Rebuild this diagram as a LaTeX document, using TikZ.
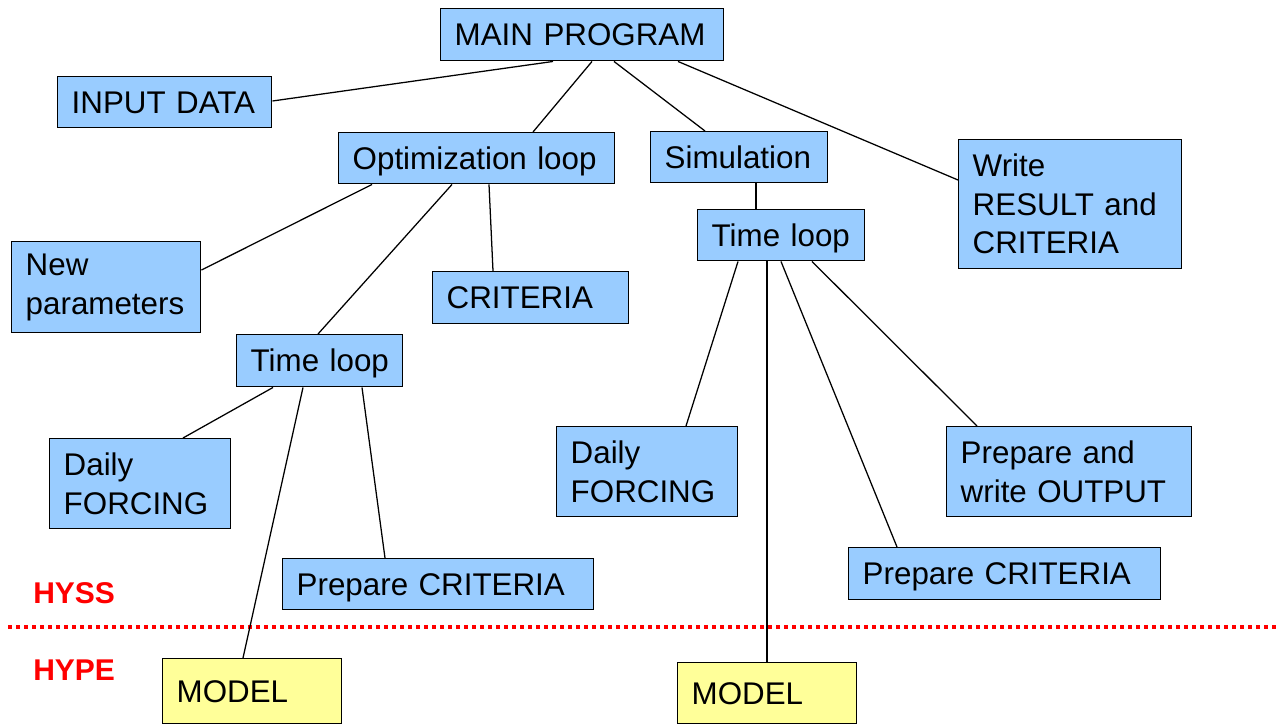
\documentclass[tikz,border=0pt]{standalone}
\usepackage{fontspec}
\setmainfont{Liberation Sans}
\usetikzlibrary{calc}
\definecolor{boxblue}{HTML}{99CCFF}
\definecolor{boxyellow}{HTML}{FFFF99}
\definecolor{lblred}{HTML}{FF0000}
\tikzset{
  bx/.style n args={2}{draw=black, line width=1.1pt, fill=boxblue, anchor=north west,
    minimum width=#1*0.75pt, minimum height=#2*0.75pt, text width=#1*0.75pt-21pt,
    inner xsep=10.5pt, inner ysep=0pt, align=left,
    font=\fontsize{23.5pt}{28.9pt}\selectfont},
  ybx/.style n args={2}{bx={#1}{#2}, fill=boxyellow},
  oneline/.style={text height=16.8pt, text depth=0pt},
  conn/.style={draw=black, line width=0.95pt},
  lvl/.style={text=lblred, font=\bfseries\fontsize{22.5pt}{27pt}\selectfont, anchor=base west, inner sep=0pt}
}
\begin{document}
\begin{tikzpicture}[x=0.75pt,y=-0.75pt]
\useasboundingbox[fill=white] (0,0) rectangle (1277,724);
\clip (0,0) rectangle (1277,724);
% separator
\draw[lblred, line width=2.6pt, dash pattern=on 3pt off 3pt] (8,627) -- (1277,627);
\node[lvl] (hyss) at (33,603) {HYSS};
\node[lvl] (hype) at (33,680) {HYPE};
% nodes
\node[bx={283}{52}, oneline] (main) at (440,8) {MAIN PROGRAM};
\node[bx={214}{51}, oneline] (input) at (57,76) {INPUT DATA};
\node[bx={276}{51}, oneline] (opt) at (338,132) {Optimization loop};
\node[bx={177}{51}, oneline] (sim) at (650,131) {Simulation};
\node[bx={223}{129}] (write) at (958,139) {Write\\RESULT and\\CRITERIA};
\node[bx={189}{91}] (newp) at (11,241) {New\\parameters};
\node[bx={196}{52}, oneline] (crit) at (432,271) {CRITERIA};
\node[bx={166}{52}, oneline] (tla) at (236,334) {\mbox{Time loop}};
\node[bx={167}{51}, oneline] (tlb) at (697,209) {\mbox{Time loop}};
\node[bx={181}{90}] (dfa) at (49,438) {Daily\\FORCING};
\node[bx={181}{90}] (dfb) at (556,426) {Daily\\FORCING};
\node[bx={245}{90}] (pwo) at (946,426) {Prepare and\\write OUTPUT};
\node[bx={311}{51}, oneline] (pca) at (282,558) {Prepare CRITERIA};
\node[bx={312}{52}, oneline] (pcb) at (848,547) {Prepare CRITERIA};
\node[ybx={179}{65}, oneline] (moda) at (162,658) {MODEL};
\node[ybx={179}{61}, oneline] (modb) at (677,662) {MODEL};
% connectors
\draw[conn] ($(main.south west)+(113,0)$) -- ($(input.north east)+(0,25)$);
\draw[conn] ($(main.south west)+(152,0)$) -- ($(opt.north west)+(195,0)$);
\draw[conn] ($(main.south west)+(174,0)$) -- ($(sim.north west)+(55,0)$);
\draw[conn] ($(main.south west)+(238,0)$) -- ($(write.north west)+(0,41)$);
\draw[conn] ($(opt.south west)+(34,0)$) -- ($(newp.north east)+(0,29)$);
\draw[conn] ($(opt.south west)+(114,0)$) -- ($(tla.north west)+(82,0)$);
\draw[conn] ($(opt.south west)+(151,0)$) -- ($(crit.north west)+(61,0)$);
\draw[conn] ($(sim.south west)+(106,0)$) -- ($(tlb.north west)+(59,0)$);
\draw[conn] ($(tla.south west)+(37,0)$) -- ($(dfa.north west)+(134,0)$);
\draw[conn] ($(tla.south west)+(67,0)$) -- ($(moda.north west)+(81,0)$);
\draw[conn] ($(tla.south west)+(126,0)$) -- ($(pca.north west)+(103,0)$);
\draw[conn] ($(tlb.south west)+(41,0)$) -- ($(dfb.north west)+(130,0)$);
\draw[conn] ($(tlb.south west)+(70,0)$) -- ($(modb.north west)+(90,0)$);
\draw[conn] ($(tlb.south west)+(84,0)$) -- ($(pcb.north west)+(49,0)$);
\draw[conn] ($(tlb.south west)+(115,0)$) -- ($(pwo.north west)+(31,0)$);
\end{tikzpicture}
\end{document}
